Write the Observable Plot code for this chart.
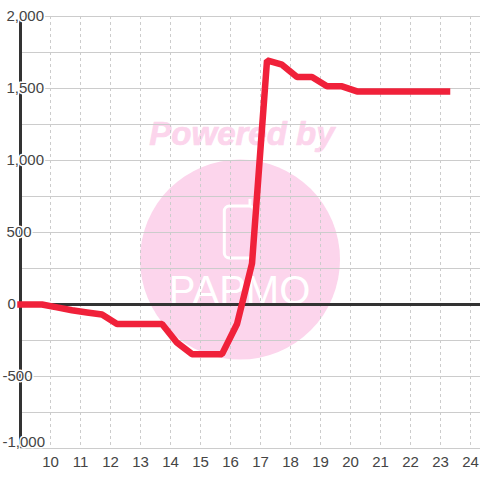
<!DOCTYPE html>
<html>
<head>
<meta charset="utf-8">
<style>html,body{margin:0;padding:0;background:#fff}svg{display:block}</style>
<script src="https://cdn.jsdelivr.net/npm/d3@7"></script>
<script src="https://cdn.jsdelivr.net/npm/@observablehq/plot@0.6"></script>
</head>
<body>
<div id="chart"></div>
<script>
const hours = [9, 9.717, 10.217, 10.717, 11.217, 11.717, 12.217, 12.717, 13.217, 13.717, 14.217, 14.717, 15.217, 15.717, 16.217, 16.717, 17.217, 17.717, 18.217, 18.717, 19.217, 19.717, 20.217, 20.717, 21.217, 21.717, 22.217, 22.717, 23.217];
const values = [0, 0, -20, -40, -55, -70, -135, -135, -135, -135, -265, -345, -345, -345, -135, 285, 1695, 1665, 1580, 1580, 1515, 1515, 1480, 1480, 1480, 1480, 1480, 1480, 1480];
const xTicks = [10, 11, 12, 13, 14, 15, 16, 17, 18, 19, 20, 21, 22, 23, 24];
const yGrid = [-1000, -750, -500, -250, 0, 250, 500, 750, 1000, 1250, 1500, 1750, 2000];
const yLabelsPos = [500, 1000, 1500, 2000];
const yLabelsZero = [0];
const yLabelsNeg = [-500];
const yLabelsBottom = [-1000];
const series = hours.map((h, i) => ({h, v: values[i]}));
const fmt = d3.format(",");
const font = "Liberation Sans";
const ink = "#444";
const pink = "#fcd5ec";

const labelOpts = {
  fontSize: 15, fontFamily: font, fill: ink, stroke: "#fff", strokeWidth: 3,
  paintOrder: "stroke", textAnchor: "start", frameAnchor: "left", lineAnchor: "middle"
};

const chart = Plot.plot({
  width: 480, height: 480,
  marginLeft: 20, marginRight: 0, marginTop: 16, marginBottom: 32,
  x: {domain: [9, 24.3333], axis: null},
  y: {domain: [-1000, 2000], axis: null},
  style: {background: "#fff", overflow: "visible"},
  marks: [
    Plot.dot([{x: 16.317, y: 312}], {x: "x", y: "y", r: 100, fill: pink, stroke: "none"}),
    Plot.text(["Powered by"], {x: () => 16.38, y: () => 1180, fontFamily: font, fontWeight: "bold", fontStyle: "italic", fontSize: 33, fill: pink, stroke: pink, strokeWidth: 0.7, textAnchor: "middle"}),
    Plot.rect([{x1: 15.81, x2: 16.8, y1: 320, y2: 680}], {x1: "x1", x2: "x2", y1: "y1", y2: "y2", fill: "none", stroke: "#fff", strokeWidth: 3, rx: 5}),
    Plot.ruleX([16.65], {y1: 680, y2: 730, stroke: "#fff", strokeWidth: 3}),
    Plot.text(["PAPMO"], {x: () => 16.3, y: () => 95, fontFamily: "Liberation Sans Narrow, Liberation Sans", fontSize: 40, fill: "#fff", textAnchor: "middle", stroke: pink, strokeWidth: 2, paintOrder: "stroke", style: {letterSpacing: "5px"}}),
    Plot.ruleX(xTicks, {stroke: "#ccc", strokeWidth: 1, strokeDasharray: "3,3"}),
    Plot.ruleY(yGrid, {stroke: "#ccc", strokeWidth: 1}),
    Plot.ruleX([9], {stroke: "#333", strokeWidth: 3}),
    Plot.ruleY([0], {stroke: "#333", strokeWidth: 3}),
    Plot.text(yLabelsPos, {...labelOpts, y: d => d, text: fmt, dx: -14}),
    Plot.text(yLabelsZero, {...labelOpts, y: d => d, text: fmt, dx: -13}),
    Plot.text(yLabelsNeg, {...labelOpts, y: d => d, text: d => "-" + fmt(-d), dx: -18}),
    Plot.text(yLabelsBottom, {...labelOpts, y: d => d, text: d => "-" + fmt(-d), dx: -18, dy: -6}),
    Plot.text(xTicks, {x: d => d, frameAnchor: "bottom", dy: 18, fontSize: 15, fontFamily: font, fill: ink, text: d => String(d), textAnchor: "middle"}),
    Plot.line(series, {x: "h", y: "v", stroke: "#f0213a", strokeOpacity: 1, strokeWidth: 6.5, strokeLinecap: "square", strokeLinejoin: "miter"})
  ]
});
document.getElementById("chart").appendChild(chart);
</script>
</body>
</html>
